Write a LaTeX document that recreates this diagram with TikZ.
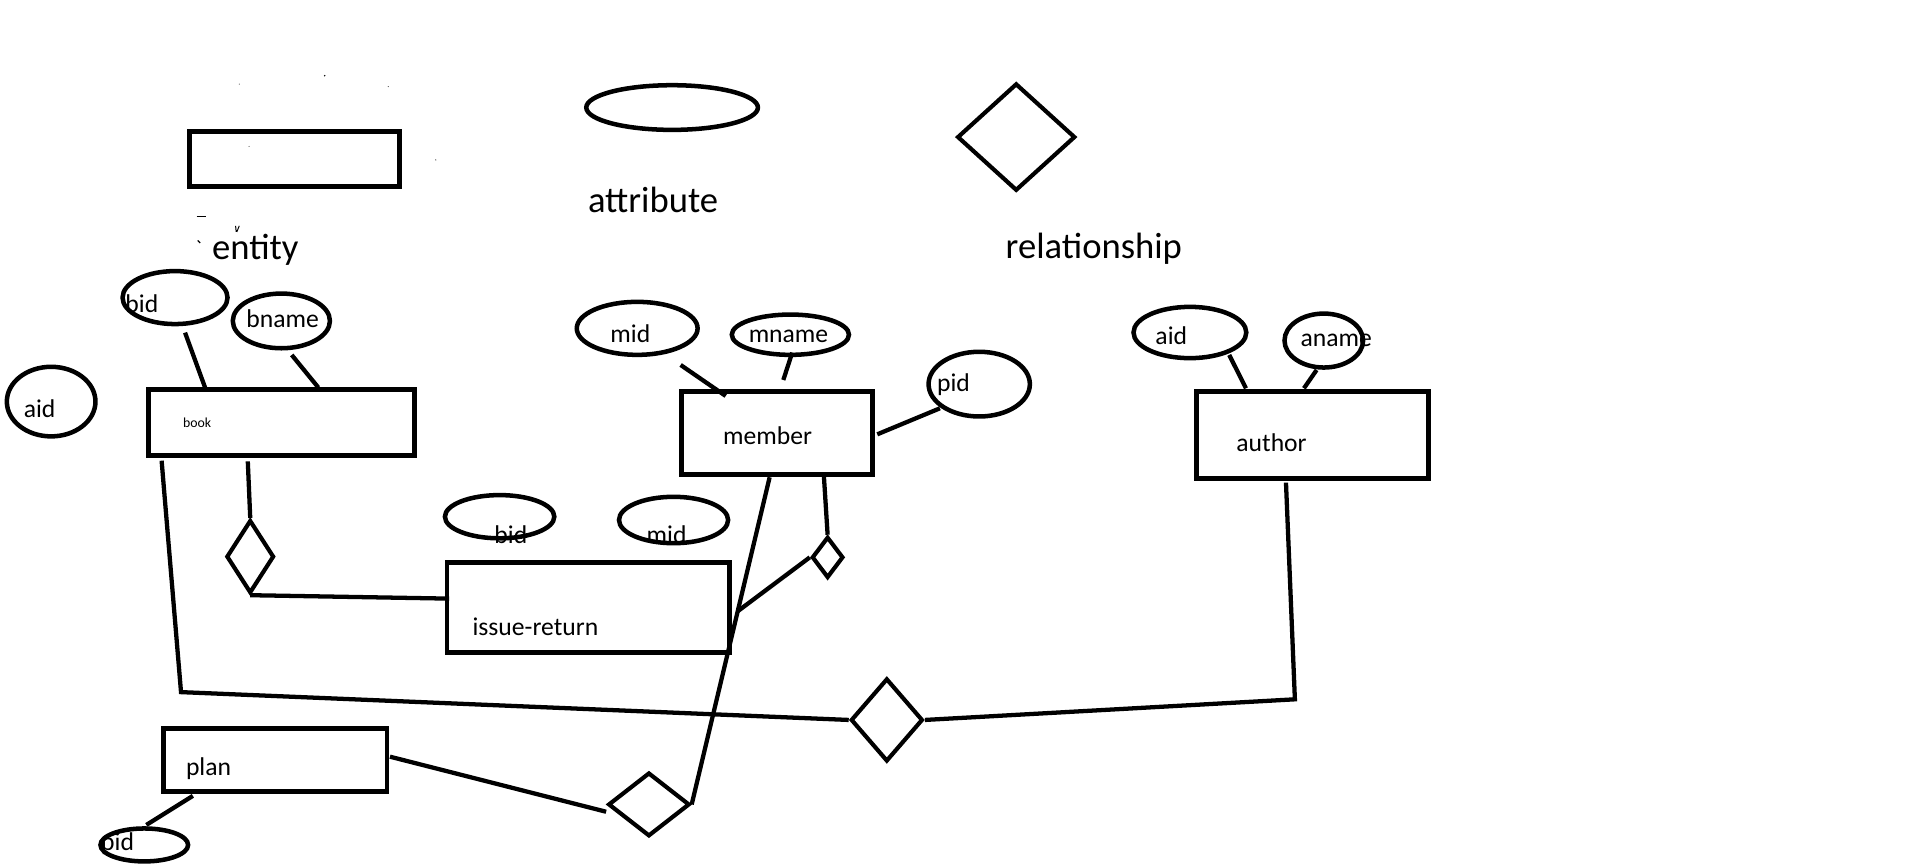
\documentclass[tikz,border=0pt]{standalone}
\usepackage{fontspec}
\setmainfont{Carlito}
\usetikzlibrary{shapes.geometric,calc}
\begin{document}
\begin{tikzpicture}[x=0.5pt,y=-0.5pt,
  ln/.style={line width=1.75pt},
  ent/.style={draw,line width=1.95pt,rectangle,inner sep=0pt},
  att/.style={draw,line width=1.85pt,ellipse,inner sep=0pt},
  rel/.style={draw,line width=1.7pt,diamond,inner sep=0pt},
  lbl/.style={anchor=west,inner sep=0pt,font=\fontsize{10.5}{12}\selectfont},
  big/.style={anchor=west,inner sep=0pt,font=\fontsize{15}{18}\selectfont},
  tiny/.style={anchor=west,inner sep=0pt,font=\fontsize{5.65}{7}\selectfont}]
\fill[white] (0,0) rectangle (1568,710.3);
\useasboundingbox (0,0) rectangle (1568,710.3);

% legend
\node[ent,minimum width=85.9pt,minimum height=22.4pt] (legent) at (241.3,130.4) {};
\node[att,minimum width=70.3pt,minimum height=18.3pt] (legatt) at (550.6,88.1) {};
\node[rel,minimum width=48.35pt,minimum height=43.95pt] (legrel) at (832.5,112.3) {};
\node[big] (tattr) at (481.3,163.8) {attribute};
\node[big] (tent) at (173.4,204.8) {entity};
\node[big] (trel) at (823.5,203.4) {relationship};
% specks
\draw[line width=0.6pt] (161,177.5) -- (169,177.5);
\draw[line width=0.4pt] (193,185) -- (193.5,190) (194,190) -- (196,185);
\draw[line width=0.5pt] (162,197) -- (164,199);
\fill (266,62) circle (0.7);
\fill (196,69) circle (0.4);
\fill (318,71) circle (0.4);
\fill (204,120) circle (0.4);
\fill (357,131) circle (0.5);

% entities
\node[ent,minimum width=109pt,minimum height=27.15pt] (book) at (230.75,345.95) {};
\node[tiny] (tbook) at (149.6,346) {book};
\node[ent,minimum width=78pt,minimum height=33.75pt] (member) at (636.5,354.75) {};
\node[lbl] (tmember) at (592,356.9) {member};
\node[ent,minimum width=95pt,minimum height=35.65pt] (author) at (1074.95,356.65) {};
\node[lbl] (tauthor) at (1012.5,362.6) {author};
\node[ent,minimum width=115.7pt,minimum height=36.6pt] (issue) at (481.8,497.7) {};
\node[lbl] (tissue) at (386.7,513.4) {issue-return};
\node[ent,minimum width=91.5pt,minimum height=25.85pt] (plan) at (225.5,622.6) {};
\node[lbl] (tplan) at (152,629.4) {plan};

% attributes
\node[att,minimum width=43pt,minimum height=21.7pt] (bid) at (143.4,243.8) {};
\node[lbl] (tbid) at (102.4,248.5) {bid};
\node[att,minimum width=39.8pt,minimum height=22.4pt] (bname) at (230.5,262.9) {};
\node[lbl] (tbname) at (201.5,260.8) {bname};
\node[att,minimum width=36.3pt,minimum height=28.5pt] (aidA) at (41.9,329) {};
\node[lbl] (taidA) at (19.1,334.5) {aid};
\node[att,minimum width=49.5pt,minimum height=21.7pt] (mid) at (522,269) {};
\node[lbl] (tmid) at (499.7,273) {mid};
\node[att,minimum width=48pt,minimum height=16.5pt] (mname) at (647.5,274.2) {};
\node[lbl] (tmname) at (613,275.3) {mname};
\node[att,minimum width=41.5pt,minimum height=26.5pt] (pidA) at (802.2,314.7) {};
\node[lbl] (tpidA) at (767.3,315.4) {pid};
\node[att,minimum width=46.2pt,minimum height=21pt] (aidB) at (974.8,272.4) {};
\node[lbl] (taidB) at (946.2,275.3) {aid};
\node[att,minimum width=32.2pt,minimum height=22.1pt] (aname) at (1084.5,279) {};
\node[lbl] (taname) at (1065,278.5) {aname};
\node[att,minimum width=44.8pt,minimum height=17.7pt] (bidB) at (409.3,423.3) {};
\node[lbl] (tbidB) at (404.7,438) {bid};
\node[att,minimum width=44.7pt,minimum height=19pt] (midB) at (551.8,426) {};
\node[lbl] (tmidB) at (529.4,438) {mid};
\node[att,minimum width=35.9pt,minimum height=13.5pt] (pidB) at (118.2,692.2) {};
\node[lbl] (tpidB) at (82.5,690.8) {pid};

% relationships
\node[rel,minimum width=19.5pt,minimum height=29.9pt] (d1) at (205,456) {};
\node[rel,minimum width=12.9pt,minimum height=16.85pt] (d2) at (678,456.6) {};
\node[rel,minimum width=29.5pt,minimum height=34pt] (d3) at (726.5,589.8) {};
\node[rel,minimum width=33.35pt,minimum height=26.1pt] (d4) at (531.6,659) {};

\coordinate (c1) at (148.3,567);
\coordinate (c2) at (1060.8,572.9);

% connectors
\draw[ln] ($(bid.center)+(8.2,28.7)$) -- ($(book.center)+(-62.75,-28.45)$);
\draw[ln] ($(bname.center)+(8.5,27.9)$) -- ($(book.center)+(30.05,-28.45)$);
\draw[ln] ($(book.center)+(-27.75,32)$) -- (d1.north);
\draw[ln] (d1.south) -- ($(issue.center)+(-113.8,-7.3)$);
\draw[ln] ($(member.center)+(38.5,36)$) -- (d2.north);
\draw[ln] (d2.west) -- ($(issue.center)+(122.2,3.3)$);
\draw[ln] ($(member.center)+(-6,36.25)$) -- (d4.east);
\draw[ln] ($(plan.center)+(94,-2.7)$) -- ($(d4.west)+(0,6)$);
\draw[ln] ($(plan.center)+(-67.5,29.4)$) -- ($(pidB.center)+(1.7,-16.4)$);
\draw[ln] ($(book.center)+(-98.35,31.45)$) -- (c1) -- (d3.west);
\draw[ln] (d3.east) -- (c2) -- ($(author.center)+(-21.45,38.75)$);
\draw[ln] ($(mid.center)+(35.6,30)$) -- ($(member.center)+(-42,-30.35)$);
\draw[ln] ($(mname.center)+(1.5,14.7)$) -- ($(member.center)+(5.2,-43.45)$);
\draw[ln] ($(member.center)+(82.2,1.05)$) -- ($(pidA.center)+(-32.2,19.8)$);
\draw[ln] ($(aidB.center)+(32.2,18.4)$) -- ($(author.center)+(-54.25,-38.55)$);
\draw[ln] ($(aname.center)+(-5.9,24.1)$) -- ($(author.center)+(-6.75,-38.55)$);
\end{tikzpicture}
\end{document}
